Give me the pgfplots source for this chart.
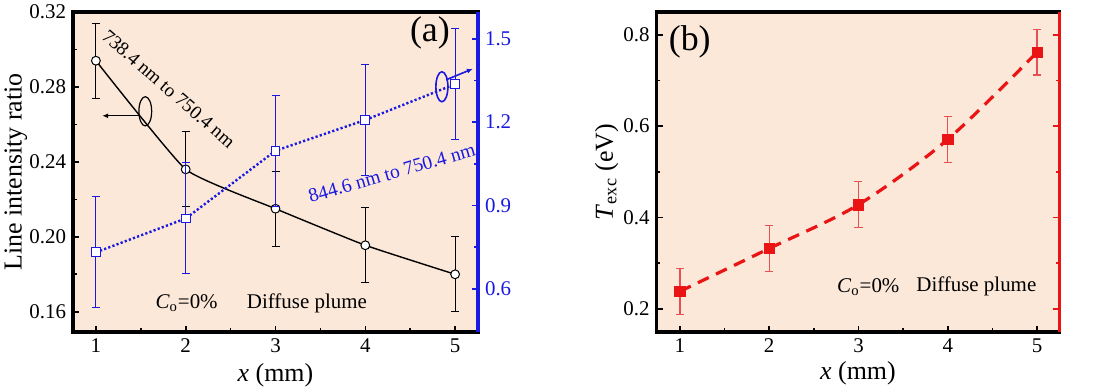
\documentclass[border=0pt]{standalone}
\usepackage{pgfplots}
\pgfplotsset{compat=1.18}
\usepackage{fontspec}
\setmainfont{Liberation Serif}
\usetikzlibrary{arrows.meta}
\definecolor{bgpeach}{RGB}{252,232,216}
\definecolor{myblue}{RGB}{25,25,225}
\definecolor{myred}{RGB}{235,20,20}
\definecolor{errred}{RGB}{230,80,80}

\pgfplotsset{
  base/.style={
    scale only axis,
    anchor=south west,
    height=160bp,
    /pgf/number format/assume math mode=true,
    tick label style={font=\fontsize{10.5}{12}\selectfont},
    label style={font=\fontsize{13}{15}\selectfont},
    major tick length=3bp, minor tick length=1.8bp,
    every tick/.style={line width=0.8bp, black},
    axis line style={line width=1.6bp},
    xtick={1,2,3,4,5}, minor x tick num=1,
  }
}

\pgfplotstableread{
x y e
1 0.294 0.02
2 0.236 0.02
3 0.215 0.02
4 0.1955 0.02
5 0.180 0.02
}\blackdata

\pgfplotstableread{
x y e
1 0.731 0.2
2 0.853 0.2
3 1.097 0.2
4 1.208 0.2
5 1.337 0.2
}\bluedata

\pgfplotstableread{
x y e
1 0.238 0.05
2 0.332 0.05
3 0.428 0.05
4 0.571 0.05
5 0.762 0.05
}\reddata

\begin{document}
\begin{tikzpicture}
\useasboundingbox (0,0) rectangle (551bp,195bp);
% ---------------- (a) left axis
\begin{axis}[base, at={(36.5bp,29bp)}, width=202.5bp,
  xmin=0.745, xmax=5.255, ymin=0.1492, ymax=0.32,
  ytick={0.16,0.20,0.24,0.28,0.32}, minor y tick num=1,
  yticklabel style={/pgf/number format/.cd, fixed, fixed zerofill, precision=2},
  xtick pos=bottom, ytick pos=left,
  axis background/.style={fill=bgpeach},
  xlabel={\textit{x} (mm)}, ylabel={Line intensity ratio},
  xlabel style={at={(axis description cs:0.5,-0.135)}, anchor=center},
  ylabel style={at={(axis description cs:-0.141,0.5)}, anchor=center},
]
\addplot[black, line width=0.7bp, smooth, tension=0.25, mark=*, mark size=2.2bp,
  mark options={solid, fill=white, draw=black, line width=0.5bp},
  error bars/.cd, y dir=both, y explicit,
  error bar style={solid, line width=0.5bp, black},
  error mark options={rotate=90, mark size=2bp, line width=0.5bp, black}]
  table[x=x, y=y, y error=e] {\blackdata};
\node[rotate=-41, font=\fontsize{9.6}{12}\selectfont] at (axis cs:1.81,0.279) {738.4 nm to 750.4 nm};
\node[rotate=16, text=myblue, font=\fontsize{9.8}{12}\selectfont] at (axis cs:4.296,0.2341) {844.6 nm to 750.4 nm};
\draw[line width=0.6bp] (axis cs:1.55,0.267) ellipse [x radius=3.2bp, y radius=7.3bp];
\draw[line width=0.6bp, -{Latex[length=3bp,width=2.5bp]}] (axis cs:1.48,0.2646) -- (axis cs:1.07,0.2646);
\draw[myblue, line width=0.8bp] (axis cs:4.853,0.2801) ellipse [x radius=3bp, y radius=7.5bp];
\draw[myblue, line width=0.8bp, -{Latex[length=3bp,width=2.5bp]}] (axis cs:4.9,0.2838) -- (axis cs:5.198,0.2897);
\node[font=\fontsize{18}{20}\selectfont] at (axis cs:4.72,0.309) {(a)};
\node[font=\fontsize{10.5}{12}\selectfont] at (axis cs:2.01,0.1646) {\textit{C}\textsubscript{o}=0\%};
\node[font=\fontsize{10.5}{12}\selectfont] at (axis cs:3.35,0.1646) {Diffuse plume};
\end{axis}
% ---------------- (a) right axis
\begin{axis}[base, at={(36.5bp,29bp)}, width=202.5bp,
  xmin=0.745, xmax=5.255, ymin=0.444, ymax=1.597,
  axis x line=none, axis y line*=right,
  y axis line style={myblue, line width=2bp},
  ytick={0.6,0.9,1.2,1.5}, minor y tick num=1,
  every tick/.style={myblue, line width=0.8bp},
  yticklabel style={text=myblue, /pgf/number format/.cd, fixed, fixed zerofill, precision=1},
]
\addplot[myblue, line width=1.2bp, dash pattern=on 1.1bp off 1.1bp,
  mark=square*, mark size=2.2bp,
  mark options={solid, fill=white, draw=myblue, line width=0.5bp},
  error bars/.cd, y dir=both, y explicit,
  error bar style={solid, line width=0.5bp, myblue},
  error mark options={rotate=90, mark size=2bp, line width=0.5bp, myblue}]
  table[x=x, y=y, y error=e] {\bluedata};
\end{axis}
% ---------------- (b)
\begin{axis}[base, at={(328.3bp,29bp)}, width=201.4bp,
  xmin=0.739, xmax=5.25, ymin=0.149, ymax=0.85,
  ytick={0.2,0.4,0.6,0.8}, minor y tick num=1,
  yticklabel style={/pgf/number format/.cd, fixed, fixed zerofill, precision=1},
  xtick pos=bottom, ytick pos=left,
  axis background/.style={fill=bgpeach},
  xlabel={\textit{x} (mm)}, ylabel={\textit{T}\textsubscript{exc} (eV)},
  xlabel style={at={(axis description cs:0.5,-0.13)}, anchor=center},
  ylabel style={at={(axis description cs:-0.124,0.5)}, anchor=center},
]
\addplot[myred, line width=1.6bp, smooth, dash pattern=on 6bp off 4bp,
  mark=square*, mark size=2.6bp,
  mark options={solid, fill=myred, draw=myred, line width=0.3bp},
  error bars/.cd, y dir=both, y explicit,
  error bar style={solid, line width=0.6bp, errred},
  error mark options={rotate=90, mark size=2bp, line width=0.6bp, errred}]
  table[x=x, y=y, y error=e] {\reddata};
\node[font=\fontsize{18}{20}\selectfont] at (axis cs:1.11,0.785) {(b)};
\node[font=\fontsize{10.5}{12}\selectfont] at (axis cs:3.11,0.248) {\textit{C}\textsubscript{o}=0\%};
\node[font=\fontsize{10.5}{12}\selectfont] at (axis cs:4.32,0.248) {Diffuse plume};
\end{axis}
\begin{axis}[base, at={(328.3bp,29bp)}, width=201.4bp,
  xmin=0.739, xmax=5.25, ymin=0.149, ymax=0.85,
  axis x line=none, axis y line*=right,
  y axis line style={myred, line width=1.6bp},
  ytick={0.2,0.4,0.6,0.8}, minor y tick num=1, yticklabels={},
  every tick/.style={myred, line width=0.8bp},
]
\end{axis}
\end{tikzpicture}
\end{document}
